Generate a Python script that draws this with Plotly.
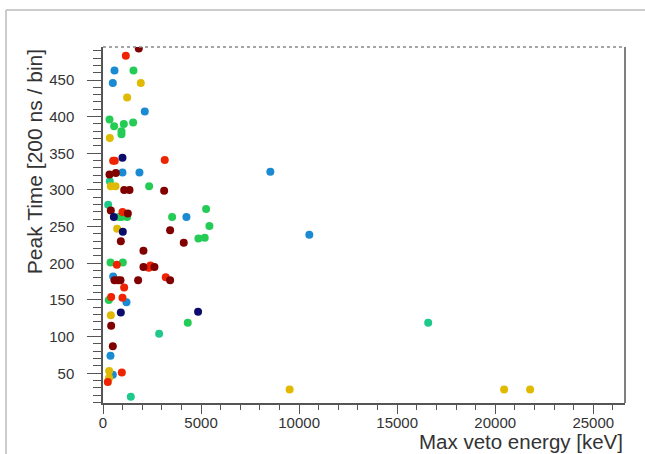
import plotly.graph_objects as go

# ---- data (Max veto energy [keV], Peak time [200 ns / bin]) grouped by marker colour ----
navy_x = [993, 552, 1010, 908, 4848]
navy_y = [344, 263, 243, 133, 134]

blue_x = [586, 500, 2131, 993, 1859, 4254, 518, 1197, 382, 500, 8533, 10520]
blue_y = [463, 446, 407, 324, 324, 263, 182, 147, 74, 48, 325, 239]

teal_x = [348, 265, 2862, 1418, 16582]
teal_y = [312, 280, 104, 18, 119]

green_x = [1554, 331, 568, 1061, 1537, 942, 942, 2352, 806, 942, 1231, 3524,
           5257, 5426, 4865, 5187, 382, 1010, 297, 4322]
green_y = [463, 396, 387, 390, 392, 380, 376, 305, 263, 263, 263, 263,
           274, 251, 234, 235, 201, 201, 150, 119]

yellow_x = [1927, 1231, 348, 398, 637, 722, 398, 314, 314, 9516, 20453, 21778]
yellow_y = [446, 426, 371, 305, 305, 247, 129, 53, 44, 28, 28, 28]

red_x = [1163, 518, 600, 3148, 993, 705, 2335, 2420, 3200, 1078, 416, 993, 960, 246]
red_y = [483, 340, 340, 341, 270, 198, 194, 197, 181, 167, 154, 153, 51, 38]

darkred_x = [1824, 331, 654, 1080, 1350, 3118, 398, 1265, 3422, 908, 4118, 2063,
             2063, 2624, 586, 756, 891, 1791, 3422, 416, 500]
darkred_y = [493, 321, 323, 300, 300, 299, 272, 268, 245, 230, 228, 217,
             195, 195, 177, 177, 177, 177, 177, 115, 87]

series = [
    (teal_x, teal_y, "#1fc98a"),
    (green_x, green_y, "#24cc55"),
    (blue_x, blue_y, "#1a8ad2"),
    (yellow_x, yellow_y, "#dfba00"),
    (red_x, red_y, "#ee2400"),
    (darkred_x, darkred_y, "#800000"),
    (navy_x, navy_y, "#0c0c6c"),
]

X_RANGE = [0, 26617]
Y_RANGE = [9.5, 495]

fig = go.Figure()
for xs, ys, col in series:
    fig.add_trace(go.Scatter(x=xs, y=ys, mode="markers",
                             marker=dict(size=8, color=col, line=dict(width=0)),
                             showlegend=False, hoverinfo="x+y"))

axis_col = "#555555"
fig.update_layout(
    width=645, height=454,
    margin=dict(l=103, r=20, t=47, b=51),
    paper_bgcolor="white", plot_bgcolor="white",
    font=dict(family="Liberation Sans, Arial, sans-serif", color="#333333"),
    xaxis=dict(range=X_RANGE, showgrid=False, zeroline=False,
               showline=True, linecolor=axis_col, linewidth=1.5,
               ticks="outside", ticklen=9, tickwidth=1.2, tickcolor=axis_col,
               dtick=5000, tick0=0, tickformat="d", tickfont=dict(size=15, color="#333"),
               minor=dict(ticks="outside", ticklen=5, dtick=1000, tickcolor=axis_col, tickwidth=1.2),
               ticklabelstandoff=-4),
    yaxis=dict(range=Y_RANGE, showgrid=False, zeroline=False,
               showline=True, linecolor=axis_col, linewidth=1.5,
               ticks="outside", ticklen=14, tickwidth=1.2, tickcolor=axis_col,
               dtick=50, tick0=0, tickfont=dict(size=15, color="#333"),
               minor=dict(ticks="outside", ticklen=8, dtick=10, tickcolor=axis_col, tickwidth=1.2),
               ticklabelstandoff=10),
)

# axis titles (ROOT style, right/top aligned)
fig.add_annotation(text="Max veto energy [keV]", xref="paper", yref="paper",
                   x=1.0, y=-0.071, xanchor="right", yanchor="top", showarrow=False,
                   font=dict(size=20.5, color="#333"))
fig.add_annotation(text="Peak Time [200 ns / bin]", xref="paper", yref="paper",
                   x=-0.105, y=1.0, xanchor="right", yanchor="top", textangle=-90,
                   showarrow=False, font=dict(size=21, color="#333"))

# frame top (dotted) and right (solid)
fig.add_shape(type="line", xref="paper", yref="paper", x0=0, x1=1, y0=1, y1=1,
              line=dict(color="#888888", width=1.5, dash="dot"))
fig.add_shape(type="line", xref="paper", yref="paper", x0=1, x1=1, y0=0, y1=1,
              line=dict(color=axis_col, width=1.5))

# outer canvas border (top and left)
pl, pt, pw, ph = 103, 47, 522, 356
def px2x(p):
    return (p - pl) / pw
def py2y(p):
    return 1 - (p - pt) / ph
fig.add_shape(type="line", xref="paper", yref="paper",
              x0=px2x(6), x1=px2x(650), y0=py2y(10), y1=py2y(10),
              line=dict(color="#bbbbbb", width=1.5))
fig.add_shape(type="line", xref="paper", yref="paper",
              x0=px2x(6), x1=px2x(6), y0=py2y(10), y1=py2y(460),
              line=dict(color="#bbbbbb", width=1.5))

fig.write_html("out.html")
